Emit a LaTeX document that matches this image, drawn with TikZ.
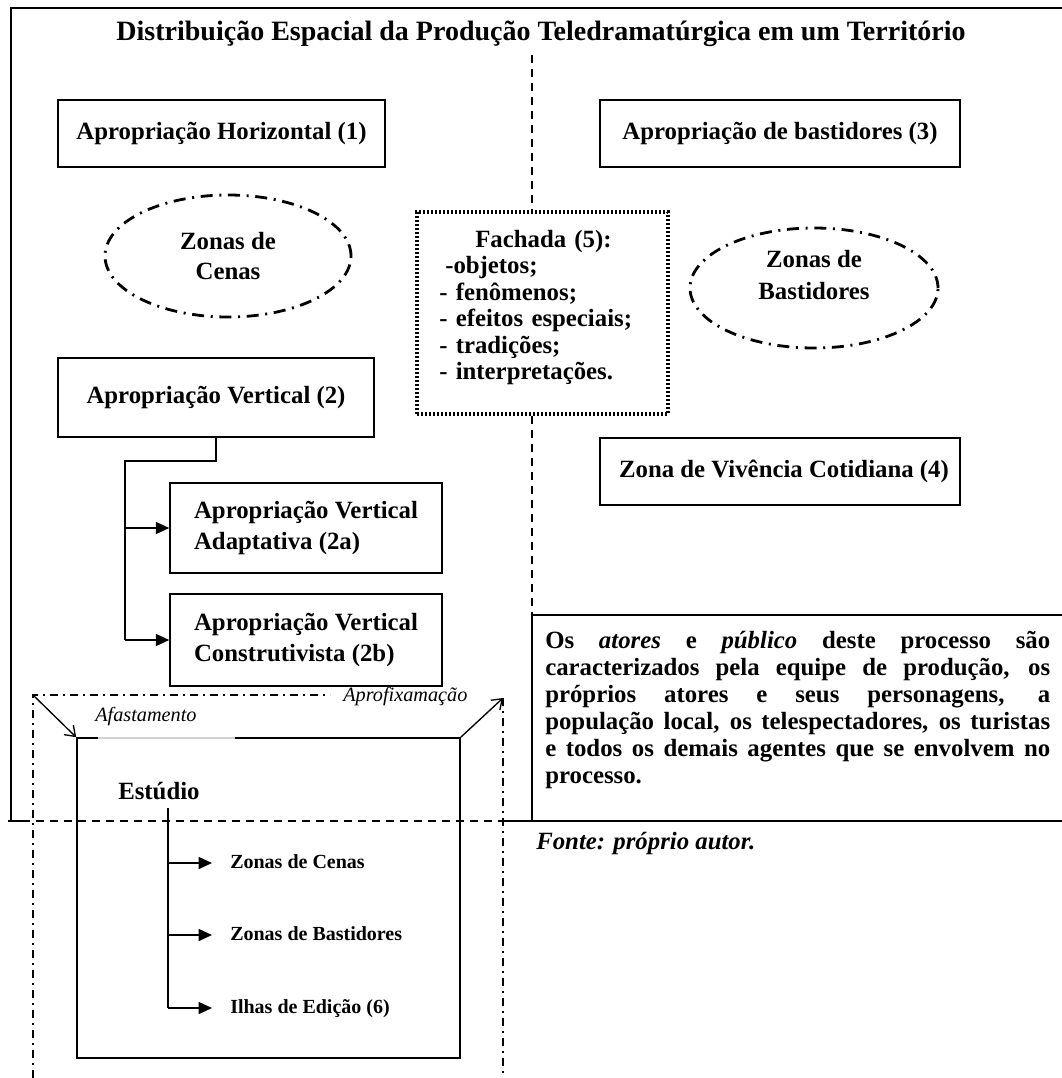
\documentclass[tikz,border=0pt]{standalone}
\usepackage{fontspec}
\setmainfont{Liberation Serif}
\usetikzlibrary{shapes.geometric,arrows.meta}
\begin{document}
\begin{tikzpicture}[x=0.75pt,y=-0.75pt,
  bodyfont/.style={font=\bfseries\fontsize{18.6}{22.5}\selectfont},
  box/.style={draw, line width=1.2pt, inner sep=0pt, bodyfont},
  ellz/.style={draw, ellipse, line width=2.1pt, dash pattern=on 9pt off 5pt on 1.5pt off 5pt, inner sep=0pt},
  fbox/.style={draw, line width=2.5pt, dash pattern=on 1.6pt off 1.4pt, inner sep=0pt},
  cdash/.style={line width=1.2pt, dash pattern=on 6pt off 4.5pt},
  hdash/.style={line width=1pt, dash pattern=on 6pt off 4.5pt},
  ddot/.style={line width=0.8pt, dash pattern=on 6pt off 4pt on 1pt off 4pt},
  conn/.style={line width=1.2pt},
  tarr/.style={line width=1.2pt, -{Triangle[length=10pt,width=9pt]}},
  oarr/.style={line width=1pt, -{Straight Barb[length=7pt,width=10pt]}},
  small/.style={font=\bfseries\fontsize{15}{18}\selectfont, inner sep=0pt, text height=10.5pt, text depth=3pt, anchor=west},
  ital/.style={font=\itshape\fontsize{15.2}{18}\selectfont, inner sep=0pt, anchor=west}
]
\useasboundingbox (0,0) rectangle (1062,1078);

% outer frame
\draw[line width=1.2pt] (1062,8) -- (11,8) -- (11,821) -- (30,821);

% title
\node[font=\bfseries\fontsize{21}{24}\selectfont] (title) at (541,34) {Distribuição Espacial da Produção Teledramatúrgica em um Território};

% upper boxes
\node[box, minimum width=245.25pt, minimum height=50.25pt] (h1) at (221.5,133.5) {Apropriação Horizontal (1)};
\node[box, minimum width=270pt, minimum height=50.25pt] (b3) at (780,133.5) {Apropriação de bastidores (3)};
\node[box, minimum width=270pt, minimum height=50.25pt] (z4) at (780,471.5) {\hspace*{6pt}Zona de Vivência Cotidiana (4)};

% ellipses
\node[ellz, minimum width=184.5pt, minimum height=91.5pt] (ecen) at (228,256) {};
\node[align=center, font=\bfseries\fontsize{18.6}{22.5}\selectfont] (ecent) at (228,256) {Zonas de\\Cenas};
\node[ellz, minimum width=186pt, minimum height=90pt] (ebas) at (814,288) {};
\node[align=center, font=\bfseries\fontsize{18.6}{23.5}\selectfont] (ebast) at (814,275) {Zonas de\\Bastidores};

% fachada
\node[fbox, minimum width=188.25pt, minimum height=151.5pt] (fach) at (542.5,313) {};
\node[anchor=north west, inner sep=0pt, text width=155pt, align=left, font=\bfseries\fontsize{18.6}{19.8}\selectfont] (facht) at (439,230)
  {\hspace*{27pt}Fachada (5):\\ \hspace*{4.5pt}-objetos;\\- fenômenos;\\- efeitos especiais;\\- tradições;\\- interpretações.};

% centre dashed divider
\coordinate (dtop) at (532,55);
\coordinate (dbot) at (532,615);
\draw[cdash] (dtop) -- (dtop |- fach.north);
\draw[cdash] (dtop |- fach.south) -- (dbot);

% vertical appropriation
\node[box, minimum width=237pt, minimum height=59.25pt] (v2) at (216,397.5) {Apropriação Vertical (2)};
\node[box, minimum width=204pt, minimum height=67.5pt, align=left, font=\bfseries\fontsize{18.6}{23}\selectfont] (v2a) at (306,528) {Apropriação Vertical\\Adaptativa (2a)};
\node[box, minimum width=204pt, minimum height=69pt, align=left, font=\bfseries\fontsize{18.6}{23.5}\selectfont] (v2b) at (306,640) {Apropriação Vertical\\Construtivista (2b)};
\coordinate (vbend) at (125,461);
\draw[conn] (v2.south) |- (vbend) -- (vbend |- v2b.west);
\draw[tarr] (vbend |- v2a.west) -- (v2a.west);
\draw[tarr] (vbend |- v2b.west) -- (v2b.west);

% text box
\draw[line width=1.2pt] (1062,615) -- (dbot) -- (532,821);
\draw[line width=1.4pt] (503,821) -- (1062,821);
\node[anchor=north west, inner sep=0pt, text width=378.75pt, align=justify, font=\bfseries\fontsize{18.6}{20.3}\selectfont] (obs) at (545,631)
  {Os \textit{atores} e \textit{público} deste processo são\linebreak
   caracterizados pela equipe de produção, os\linebreak
   próprios atores e seus personagens, a\linebreak
   população local, os telespectadores, os turistas\linebreak
   e todos os demais agentes que se envolvem no\linebreak
   processo.};
\node[anchor=west, inner sep=0pt, font=\bfseries\itshape\fontsize{18.6}{22}\selectfont] (fonte) at (536,844) {Fonte: próprio autor.};

% studio
\node[draw, line width=1.2pt, inner sep=0pt, minimum width=287.25pt, minimum height=240pt] (est) at (268.5,898) {};
\draw[gray!35, line width=1.3pt] (98,738) -- (235,738);
\node[bodyfont, anchor=west, inner sep=0pt] (estl) at (118,791) {Estúdio};
\coordinate (ddtl) at (33,695);
\coordinate (ddtr) at (503,698);
\draw[ddot] (33,1078) -- (ddtl) -- (330,695);
\draw[ddot] (ddtr) -- (503,1078);
\node[ital] (aprox) at (343,697) {Aprofixamação};
\node[ital] (afast) at (95,717) {Afastamento};
\draw[oarr] (ddtl) -- (est.north west);
\draw[oarr] (est.north east) -- (ddtr);

\coordinate (trunk) at (168,808);
\node[small] (zc) at (230,863) {Zonas de Cenas};
\node[small] (zb) at (230,935) {Zonas de Bastidores};
\node[small] (ie) at (230,1008) {Ilhas de Edição (6)};
\draw[conn] (trunk) -- (trunk |- ie.west);
\draw[tarr] (trunk |- zc.west) -- ([xshift=-13.5pt]zc.west);
\draw[tarr] (trunk |- zb.west) -- ([xshift=-13.5pt]zb.west);
\draw[tarr] (trunk |- ie.west) -- ([xshift=-13.5pt]ie.west);

% horizontal dashed line
\draw[hdash] (8,821) -- (503,821);
\end{tikzpicture}
\end{document}
